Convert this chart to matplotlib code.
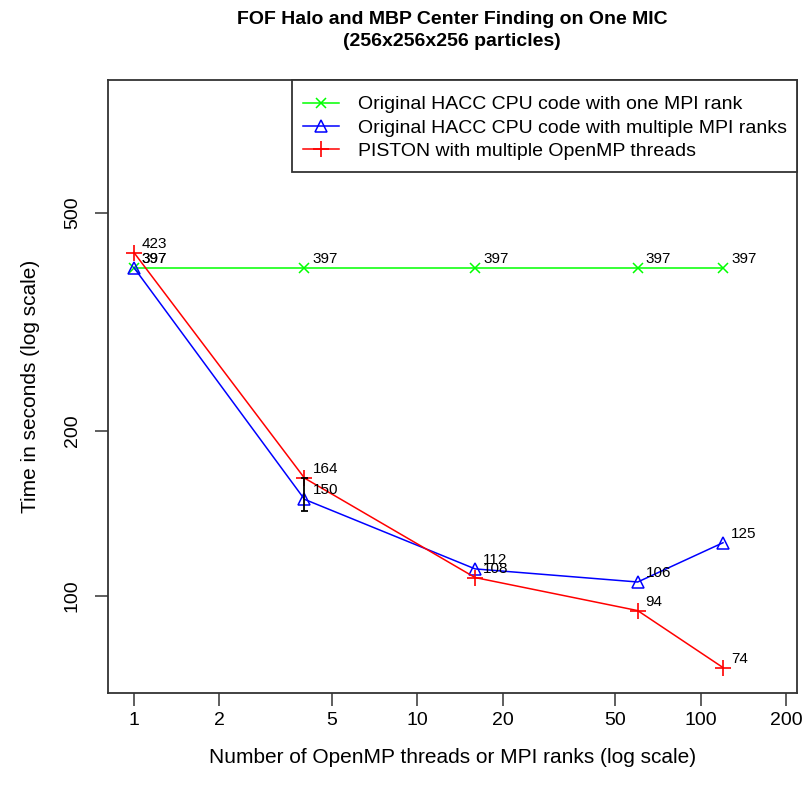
import matplotlib
matplotlib.use("Agg")
import matplotlib.pyplot as plt
from matplotlib.patches import Rectangle
from matplotlib.ticker import FixedLocator, NullLocator

plt.rcParams['font.family'] = ['Liberation Sans', 'DejaVu Sans']

# data
threads = [1, 4, 16, 60, 120]
one_rank = [397, 397, 397, 397, 397]
multi_rank = [397, 150, 112, 106, 125]
piston = [423, 164, 108, 94, 74]

# error bar (black) seen at 4 threads
err_x = [4]
err_lo = [143]
err_hi = [164]

labels = ["Original HACC CPU code with one MPI rank",
          "Original HACC CPU code with multiple MPI ranks",
          "PISTON with multiple OpenMP threads"]

xticks = [1, 2, 5, 10, 20, 50, 100, 200]
yticks = [100, 200, 500]

fig = plt.figure(figsize=(8.03, 7.88), dpi=100)
ax = fig.add_axes([108/803, 1-693/788, (797-108)/803, (693-80)/788])
ax.set_xscale('log')
ax.set_yscale('log')
ax.set_xlim(0.81, 219)
ax.set_ylim(66.5, 873)

ax.plot(threads, one_rank, color='#00ff00', lw=1.1, marker='x', ms=7, mew=1.1, label=labels[0])
ax.plot(threads, multi_rank, color='#0000ff', lw=1.1, marker='^', ms=9, mfc='none', mew=1.1, label=labels[1])
ax.plot(threads, piston, color='#ff0000', lw=1.1, marker='+', ms=12, mew=1.2, label=labels[2])

# error bar with caps
ax.vlines(err_x, err_lo, err_hi, color='black', lw=1.3)
ax.hlines(err_lo, [x*0.97 for x in err_x], [x*1.03 for x in err_x], color='black', lw=1.3)
ax.hlines(err_hi, [x*0.97 for x in err_x], [x*1.03 for x in err_x], color='black', lw=1.3)

# value labels to the upper right of each point
for xs, ys in [(threads, one_rank), (threads, multi_rank), (threads, piston)]:
    for x, y in zip(xs, ys):
        ax.annotate(str(y), (x, y), xytext=(8, 9), textcoords='offset pixels',
                    ha='left', va='center', fontsize=11)

ax.xaxis.set_major_locator(FixedLocator(xticks))
ax.xaxis.set_minor_locator(NullLocator())
ax.set_xticklabels([str(t) for t in xticks])
ax.yaxis.set_major_locator(FixedLocator(yticks))
ax.yaxis.set_minor_locator(NullLocator())
ax.set_yticklabels([str(t) for t in yticks], rotation=90, va='center')
ax.tick_params(direction='out', length=9.5, width=1.1, color='#333333', labelsize=14)
ax.tick_params(axis='x', pad=4)
ax.tick_params(axis='y', pad=10)
for s in ax.spines.values():
    s.set_linewidth(1.3)
    s.set_color('#333333')

ax.set_xlabel("Number of OpenMP threads or MPI ranks (log scale)", fontsize=15, labelpad=14)
ax.set_ylabel("Time in seconds (log scale)", fontsize=15, labelpad=17)

fig.text(452/803, 1-19/788, "FOF Halo and MBP Center Finding on One MIC",
         ha='center', va='center', fontsize=14, fontweight='bold')
fig.text(452/803, 1-42/788, "(256x256x256 particles)",
         ha='center', va='center', fontsize=14, fontweight='bold')

# legend box drawn by hand (R style: taller than matplotlib's own frame)
ax.add_patch(Rectangle(((292-108)/689, (693-172)/613), (797-292)/689, 92/613,
                       transform=ax.transAxes, facecolor='white', edgecolor='#333333',
                       lw=1.3, zorder=4, clip_on=False))
leg = ax.legend(loc='upper right', bbox_to_anchor=(1, 1 - 6/613), borderaxespad=0,
                frameon=False, fontsize=14, handlelength=1.85, handletextpad=1.0,
                labelspacing=0.3, borderpad=0.5)
leg.set_zorder(5)

fig.savefig("out.png", dpi=100)
